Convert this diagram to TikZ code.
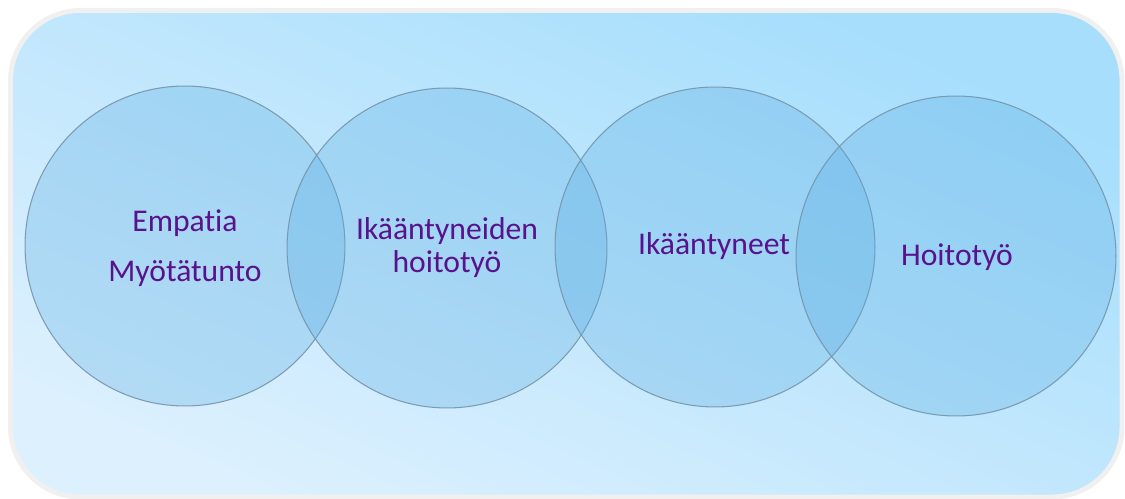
\documentclass[tikz,border=0pt]{standalone}
\usepackage{fontspec}
\setmainfont{Carlito}[Ligatures=NoCommon]
\usepackage{tikz}
\pgfdeclarelayer{bg}
\pgfsetlayers{bg,main}
\definecolor{boxrim}{RGB}{240,240,240}
\definecolor{boxtop}{RGB}{166,222,252}
\definecolor{boxbot}{RGB}{220,240,254}
\definecolor{ballfill}{RGB}{88,172,226}
\definecolor{ballrim}{RGB}{118,148,170}
\definecolor{wordcol}{RGB}{88,18,140}
\tikzset{
  ball/.style={circle, draw=ballrim, line width=0.6pt, fill=ballfill, fill opacity=0.3,
    draw opacity=0.9, minimum size=6.4cm, inner sep=0pt},
  word/.style={anchor=base, text=wordcol, inner sep=0pt, font=\fontsize{18}{21}\selectfont}
}

\begin{document}
\begin{tikzpicture}[x=0.02cm, y=-0.02cm]
        \useasboundingbox (0,0) rectangle (1125,499);
        \node (c1) [ball] at (185,246) {};
        \node (c2) [ball] at (447,248) {};
        \node (c3) [ball] at (715,247) {};
        \node (c4) [ball] at (956,256) {};
        \node (w1a) [word] at (185,232) {Empatia};
        \node (w1b) [word] at (185,282) {Myötätunto};
        \node (w2a) [word] at (447,240) {Ikääntyneiden};
        \node (w2b) [word] at (447,273) {hoitotyö};
        \node (w3) [word] at (714,255) {Ikääntyneet};
        \node (w4) [word] at (957,266) {Hoitotyö};
        \begin{pgfonlayer}{bg}
                \draw [draw=boxrim, line width=2.8pt, rounded corners=1.4cm,
                  top color=boxtop, bottom color=boxbot, shading angle=-24]
                  (10.5,10.5) rectangle (1122,497);
        \end{pgfonlayer}
\end{tikzpicture}
\end{document}
